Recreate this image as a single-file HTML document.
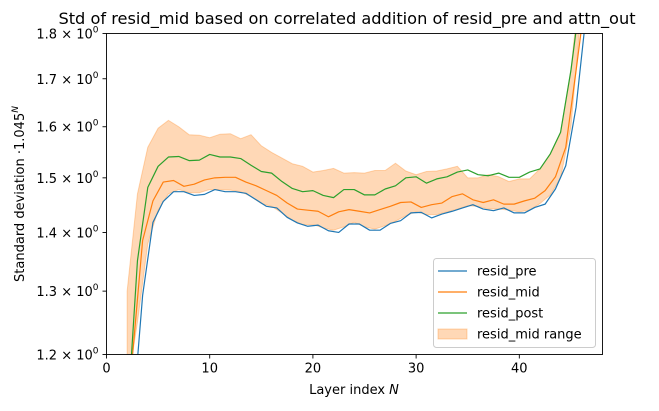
<!DOCTYPE html>
<html><head><meta charset="utf-8"><style>
body{margin:0;background:#fff;}
svg{display:block;font-family:"DejaVu Sans","Liberation Sans",sans-serif;}
</style></head><body>
<svg id="chart" width="659" height="411" viewBox="0 0 659 411">
<text x="347" y="24" font-size="16.2" text-anchor="middle" fill="#000">Std of resid_mid based on correlated addition of resid_pre and attn_out</text>
<g id="plot"></g>
<g id="axes"></g>
<text x="354" y="394" font-size="13" text-anchor="middle">Layer index <tspan font-style="italic">N</tspan></text>
<text transform="translate(24,194) rotate(-90)" font-size="13" text-anchor="middle">Standard deviation ·1.045<tspan font-size="9" dy="-6" font-style="italic">N</tspan></text>
<g>
<rect x="433.5" y="258.5" width="162" height="89" rx="3" fill="#fff" fill-opacity="0.8" stroke="#ccc"/>
<line x1="438" y1="271" x2="467" y2="271" stroke="#1f77b4" stroke-width="1.2"/>
<text x="477" y="275.5" font-size="13">resid_pre</text>
<line x1="438" y1="292" x2="467" y2="292" stroke="#ff7f0e" stroke-width="1.2"/>
<text x="477" y="296.5" font-size="13">resid_mid</text>
<line x1="438" y1="313" x2="467" y2="313" stroke="#2ca02c" stroke-width="1.2"/>
<text x="477" y="317.5" font-size="13">resid_post</text>
<rect x="438" y="329" width="29" height="10" fill="#ff7f0e" fill-opacity="0.3" stroke="#ff7f0e" stroke-opacity="0.3"/>
<text x="477" y="338.5" font-size="13">resid_mid range</text>
</g>
</svg>
<script>
const preX=[2.5,3.5,4.5,5.5,6.5,7.5,8.5,9.5,10.5,11.5,12.5,13.5,14.5,15.5,16.5,17.5,18.5,19.5,20.5,21.5,22.5,23.5,24.5,25.5,26.5,27.5,28.5,29.5,30.5,31.5,32.5,33.5,34.5,35.5,36.5,37.5,38.5,39.5,40.5,41.5,42.5,43.5,44.5,45.5,46.5];
const preVals=[1.1,1.293,1.418,1.456,1.474,1.474,1.467,1.469,1.478,1.474,1.474,1.471,1.459,1.447,1.444,1.427,1.417,1.411,1.413,1.403,1.400,1.415,1.415,1.404,1.404,1.416,1.421,1.435,1.436,1.426,1.433,1.438,1.444,1.450,1.442,1.439,1.444,1.435,1.435,1.445,1.451,1.479,1.523,1.640,1.85];
const midX=preX;
const midVals=[1.195,1.386,1.457,1.492,1.495,1.484,1.488,1.496,1.500,1.501,1.501,1.492,1.485,1.476,1.467,1.453,1.442,1.440,1.438,1.428,1.437,1.441,1.438,1.435,1.441,1.447,1.454,1.455,1.445,1.450,1.453,1.465,1.470,1.459,1.454,1.459,1.451,1.451,1.457,1.462,1.476,1.502,1.559,1.718,1.9];
const postX=[2,3,4,5,6,7,8,9,10,11,12,13,14,15,16,17,18,19,20,21,22,23,24,25,26,27,28,29,30,31,32,33,34,35,36,37,38,39,40,41,42,43,44,45,46];
const postVals=[1.1,1.351,1.482,1.522,1.540,1.541,1.533,1.534,1.545,1.540,1.540,1.537,1.524,1.512,1.509,1.493,1.480,1.474,1.476,1.467,1.463,1.478,1.478,1.468,1.468,1.479,1.485,1.500,1.502,1.490,1.498,1.502,1.511,1.515,1.506,1.504,1.509,1.501,1.501,1.511,1.517,1.546,1.589,1.718,1.9];
const bandX=postX;
const bandUpper=[1.30,1.470,1.559,1.597,1.613,1.600,1.584,1.583,1.578,1.585,1.586,1.576,1.584,1.562,1.549,1.538,1.527,1.522,1.511,1.514,1.518,1.509,1.510,1.509,1.514,1.514,1.528,1.513,1.506,1.512,1.513,1.517,1.522,1.500,1.500,1.506,1.502,1.493,1.498,1.498,1.517,1.546,1.589,1.718,1.95];
const bandLower=[1.15,1.25,1.38,1.44,1.47,1.478,1.472,1.472,1.478,1.478,1.477,1.474,1.465,1.452,1.447,1.435,1.422,1.414,1.414,1.408,1.404,1.41,1.418,1.41,1.406,1.412,1.42,1.43,1.437,1.432,1.432,1.437,1.442,1.448,1.447,1.442,1.442,1.44,1.437,1.44,1.452,1.468,1.5,1.6,1.85];
const xTicks=[0,10,20,30,40];
const yTicks=[1.2,1.3,1.4,1.5,1.6,1.7,1.8];
const yTickLabels=["1.2","1.3","1.4","1.5","1.6","1.7","1.8"];

const L=106.5,R=602.5,T=33.5,B=354.5,XMAX=48.06,YMIN=1.2,YMAX=1.8;
const sx=v=>L+(v/XMAX)*(R-L);
const sy=v=>B-(Math.log(v/YMIN)/Math.log(YMAX/YMIN))*(B-T);
const NS="http://www.w3.org/2000/svg";
const plot=document.getElementById('plot'),axes=document.getElementById('axes');
function mk(tag,attrs,parent){const e=document.createElementNS(NS,tag);for(const k in attrs)e.setAttribute(k,attrs[k]);parent.appendChild(e);return e;}
const defs=mk('defs',{},plot);
const cp=mk('clipPath',{id:'clip'},defs);
mk('rect',{x:L,y:T,width:R-L,height:B-T},cp);
const g=mk('g',{'clip-path':'url(#clip)'},plot);
let d='';
bandX.forEach((x,i)=>{d+=(i?'L':'M')+sx(x).toFixed(2)+','+sy(bandUpper[i]).toFixed(2);});
for(let i=bandX.length-1;i>=0;i--)d+='L'+sx(bandX[i]).toFixed(2)+','+sy(bandLower[i]).toFixed(2);
const band=mk('path',{d:d+'Z',fill:'#ff7f0e','fill-opacity':0.3,stroke:'#ff7f0e','stroke-opacity':0.3},g);


function line(xs,ys,color,name){
  const pts=xs.map((x,i)=>sx(x).toFixed(2)+','+sy(ys[i]).toFixed(2)).join(' ');
  const p=mk('polyline',{points:pts,fill:'none',stroke:color,'stroke-width':1.2,'stroke-linejoin':'round'},g);
  
  
}
line(preX,preVals,'#1f77b4','resid-pre-line');
line(midX,midVals,'#ff7f0e','resid-mid-line');
line(postX,postVals,'#2ca02c','resid-post-line');
const frame=mk('rect',{x:L,y:T,width:R-L,height:B-T,fill:'none',stroke:'#000','stroke-width':0.9},axes);


xTicks.forEach(t=>{
  const x=sx(t);
  mk('line',{x1:x,y1:B,x2:x,y2:B+4,stroke:'#000','stroke-width':0.9},axes);
  const tx=mk('text',{x:x,y:B+18,'font-size':13,'text-anchor':'middle'},axes);
  tx.textContent=t;
  
  
});
yTicks.forEach((t,i)=>{
  const y=sy(t);
  mk('line',{x1:L-4,y1:y,x2:L,y2:y,stroke:'#000','stroke-width':0.9},axes);
  const tx=mk('text',{x:L-8,y:y+5,'font-size':13,'text-anchor':'end'},axes);
  tx.innerHTML=yTickLabels[i]+' × 10<tspan font-size="9" dy="-6">0</tspan>';
  
  
});
</script>
</body></html>
